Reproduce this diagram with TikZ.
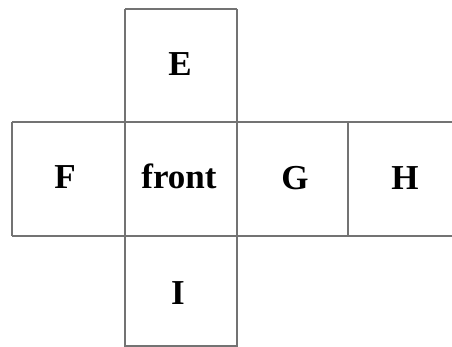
\documentclass[tikz,border=0pt]{standalone}
\usepackage{fontspec}
\setmainfont{Liberation Serif}
\begin{document}
\begin{tikzpicture}[x=1pt,y=-1pt,
  edge/.style={draw=black!55,line width=1.3pt},
  face/.style={font=\fontsize{35}{40}\selectfont\bfseries,inner sep=0pt,anchor=base}]
\useasboundingbox (0,0) rectangle (452,347);
% faces
\node[face] (E) at (180,76) {E};
\node[face] (F) at (65,189) {F};
\node[face] (front) at (179,189) {front};
\node[face] (G) at (295,190) {G};
\node[face] (H) at (405,190) {H};
\node[face] (I) at (178,304) {I};
% lines
\draw[edge] (125,9) -- (237,9);
\draw[edge] (125,9) -- (125,346) -- (237,346) -- (237,9);
\draw[edge] (12,122) -- (452,122);
\draw[edge] (12,236) -- (452,236);
\draw[edge] (12,122) -- (12,236);
\draw[edge] (348,122) -- (348,236);
\end{tikzpicture}
\end{document}
